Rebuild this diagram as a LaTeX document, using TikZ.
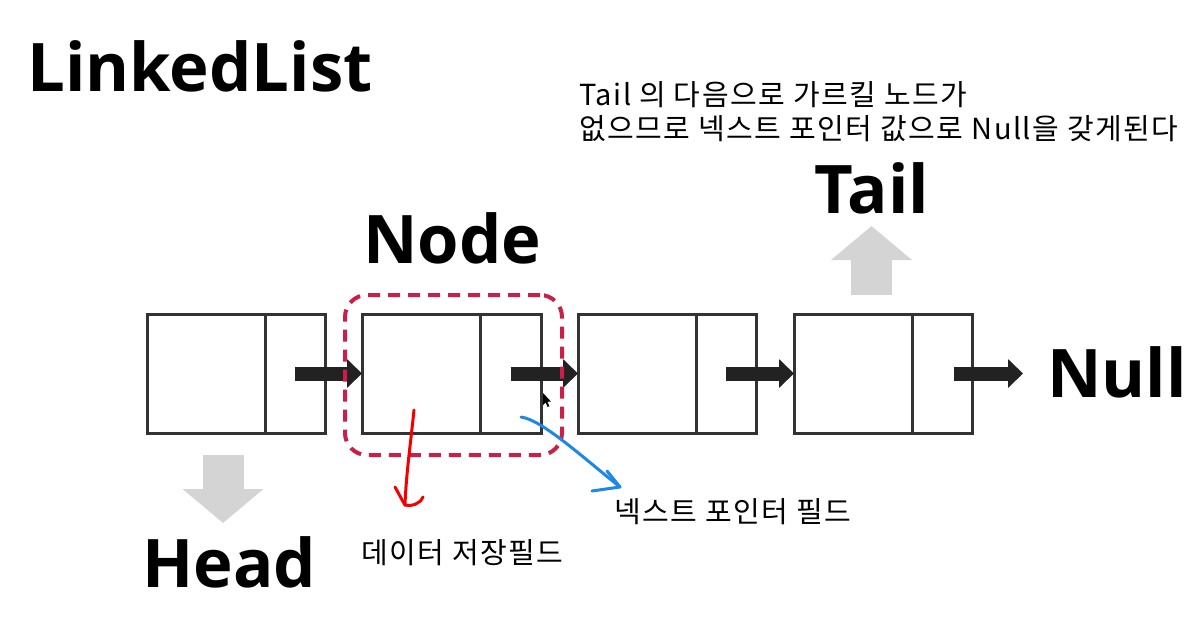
\documentclass[tikz,border=0pt]{standalone}
\usepackage{fontspec}
\setmainfont{Open Sans}
\newfontfamily\kr[LetterSpace=5.2]{Noto Sans CJK KR}
\usetikzlibrary{arrows.meta}
\definecolor{boxline}{HTML}{333333}
\definecolor{arrowblack}{HTML}{222222}
\definecolor{arrowgray}{HTML}{D4D4D4}
\definecolor{selred}{RGB}{200,32,72}
\definecolor{penred}{RGB}{245,0,0}
\definecolor{penblue}{RGB}{30,136,229}
\tikzset{
  big/.style={font=\fontsize{67}{78}\selectfont\bfseries, anchor=base west, inner sep=0},
  kor/.style={font=\kr\fontsize{29}{34}\selectfont, anchor=base west, inner sep=0},
  field/.style={draw=boxline, line width=3pt, minimum height=119pt, inner sep=0, outer sep=0, anchor=north west},
  linkarrow/.style={draw=arrowblack, line width=14pt, -{Triangle[length=15pt,width=28pt]}},
  grayarrow/.style={draw=arrowgray, line width=41pt, -{Triangle[length=34pt,width=79pt]}},
  selbox/.style={draw=selred, line width=4pt, dash pattern=on 12pt off 8pt, rounded corners=22pt,
    minimum width=217pt, minimum height=160pt, inner sep=0},
  pen/.style={line width=3pt, line cap=round, line join=round}
}
\begin{document}
\begin{tikzpicture}[x=1pt,y=-1pt]
\useasboundingbox (0,0) rectangle (1203,633);
\fill[white] (0,0) rectangle (1203,633);

% list boxes
\foreach \i/\x/\pw in {1/147/60,2/362/61,3/578/60,4/794/60}{
  \node[field, minimum width=118pt] (d\i) at (\x,314) {};
  \node[field, minimum width=\pw pt] (p\i) at (d\i.north east) {};
}

% next pointers
\draw[linkarrow] (p1.center) -- (d2.west);
\draw[linkarrow] (p2.center) -- (d3.west);
\draw[linkarrow] (p3.center) -- (d4.west);
\coordinate (nullpt) at (1023,373.5);
\draw[linkarrow] ([xshift=12pt]p4.center) -- (nullpt);

% head / tail arrows
\coordinate (tailfrom) at (871.5,295);
\coordinate (tailto) at (871.5,226);
\draw[grayarrow] (tailfrom) -- (tailto);
\coordinate (headfrom) at (223,455);
\coordinate (headto) at (223,523);
\draw[grayarrow] (headfrom) -- (headto);

% selected node
\node[selbox] (sel) at (453.5,375) {};

% big labels
\node[big] (title) at (27,91) {LinkedList};
\node[big] (nodelbl) at (363,263) {Node};
\node[big] (taillbl) at (814,213) {Tail};
\node[big] (nulllbl) at (1047,397) {Null};
\node[big] (headlbl) at (142,587) {Head};

% korean notes
\node[kor] (note1) at (579,105) {Tail 의 다음으로 가르킬 노드가};
\node[kor] (note2) at (579,139) {없으므로 넥스트 포인터 값으로 Null을 갖게된다};
\node[kor] (datalbl) at (361,563) {데이터 저장필드};
\node[kor] (ptrlbl) at (614,522) {넥스트 포인터 필드};

% hand-drawn arrows
\coordinate (rs) at (414,410);
\coordinate (rt) at (405,505);
\draw[pen, penred] (rs) .. controls (411,440) and (406,475) .. (rt);
\draw[pen, penred] (395,487) .. controls (399,494) and (402,500) .. (rt)
  .. controls (411,507) and (420,504) .. (423,497);
\coordinate (bs) at (521,417);
\coordinate (bt) at (620,487);
\draw[pen, penblue] (bs) .. controls (542,420) and (580,455) .. (bt);
\draw[pen, penblue] (607,471) -- (bt) -- (592,491);

% mouse cursor
\fill[black] (543,393) -- (543,405) -- (545.6,402.4) -- (547.6,407) -- (549.4,406.2) -- (547.4,401.8) -- (551,401.6) -- cycle;
\end{tikzpicture}
\end{document}
